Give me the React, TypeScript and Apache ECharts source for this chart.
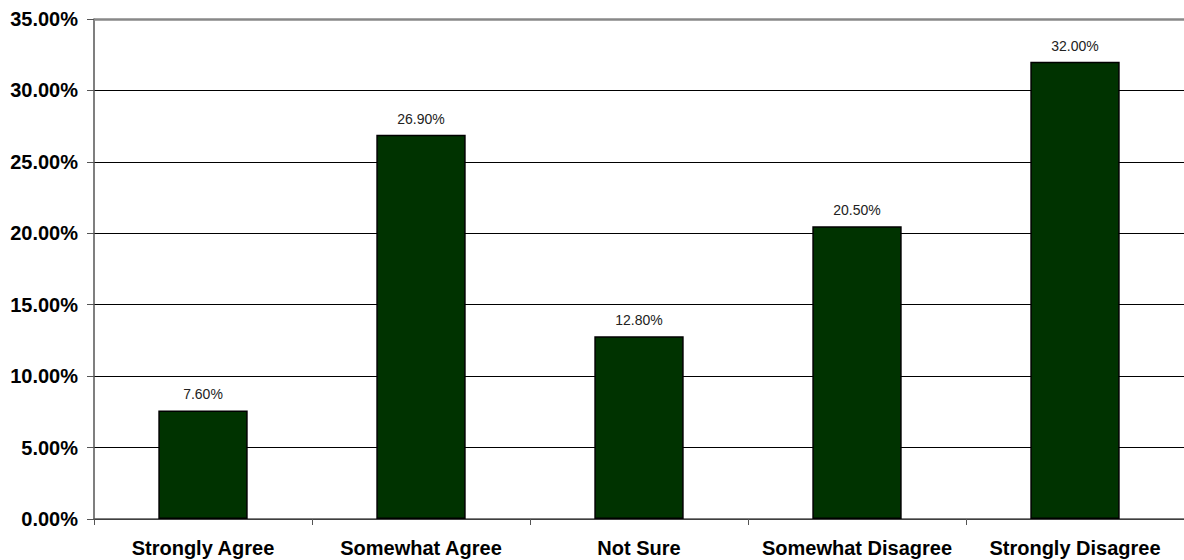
import React, { useEffect, useRef } from "react";
import * as echarts from "echarts";

const categories = ["Strongly Agree", "Somewhat Agree", "Not Sure", "Somewhat Disagree", "Strongly Disagree"];
const values = [7.6, 26.9, 12.8, 20.5, 32.0];
const yMax = 35;
const yInterval = 5;

export default function App() {
  const ref = useRef<HTMLDivElement>(null);
  useEffect(() => {
    const chart = echarts.init(ref.current!, null, { renderer: "svg" });
    chart.setOption({
      animation: false,
      backgroundColor: "#ffffff",
      grid: { left: 94, right: 0, top: 19, bottom: 41, containLabel: false },
      xAxis: {
        type: "category",
        data: categories,
        axisLine: { show: true, lineStyle: { color: "#555", width: 1.5 } },
        axisTick: { show: true, length: 6, alignWithLabel: false, lineStyle: { color: "#555" } },
        axisLabel: {
          interval: 0,
          margin: 19,
          fontFamily: "Liberation Sans, Arial, sans-serif",
          fontWeight: "bold",
          fontSize: 20,
          color: "#000",
        },
      },
      yAxis: {
        type: "value",
        min: 0,
        max: yMax,
        interval: yInterval,
        axisLine: { show: true, lineStyle: { color: "#555", width: 1.5 } },
        axisTick: { show: true, length: 7, lineStyle: { color: "#555" } },
        axisLabel: {
          margin: 16,
          formatter: (v: number) => v.toFixed(2) + "%",
          fontFamily: "Liberation Sans, Arial, sans-serif",
          fontWeight: "bold",
          fontSize: 20,
          color: "#000",
        },
        splitLine: { show: true, lineStyle: { color: "#000", width: 1 } },
      },
      series: [
        {
          type: "bar",
          data: values,
          barWidth: "41%",
          itemStyle: { color: "#003300", borderColor: "#000", borderWidth: 1.5 },
          label: {
            show: true,
            position: "top",
            distance: 9,
            formatter: (p: any) => p.value.toFixed(2) + "%",
            fontFamily: "Liberation Sans, Arial, sans-serif",
            fontSize: 14,
            color: "#222",
          },
          markLine: {
            silent: true,
            symbol: "none",
            label: { show: false },
            lineStyle: { color: "#888", width: 2.5, type: "solid" },
            data: [{ yAxis: yMax }],
          },
        },
      ],
    });
    return () => chart.dispose();
  }, []);
  return (
    <div
      ref={ref}
      style={{ position: "fixed", left: 0, top: 0, width: 1184, height: 560 }}
    />
  );
}
